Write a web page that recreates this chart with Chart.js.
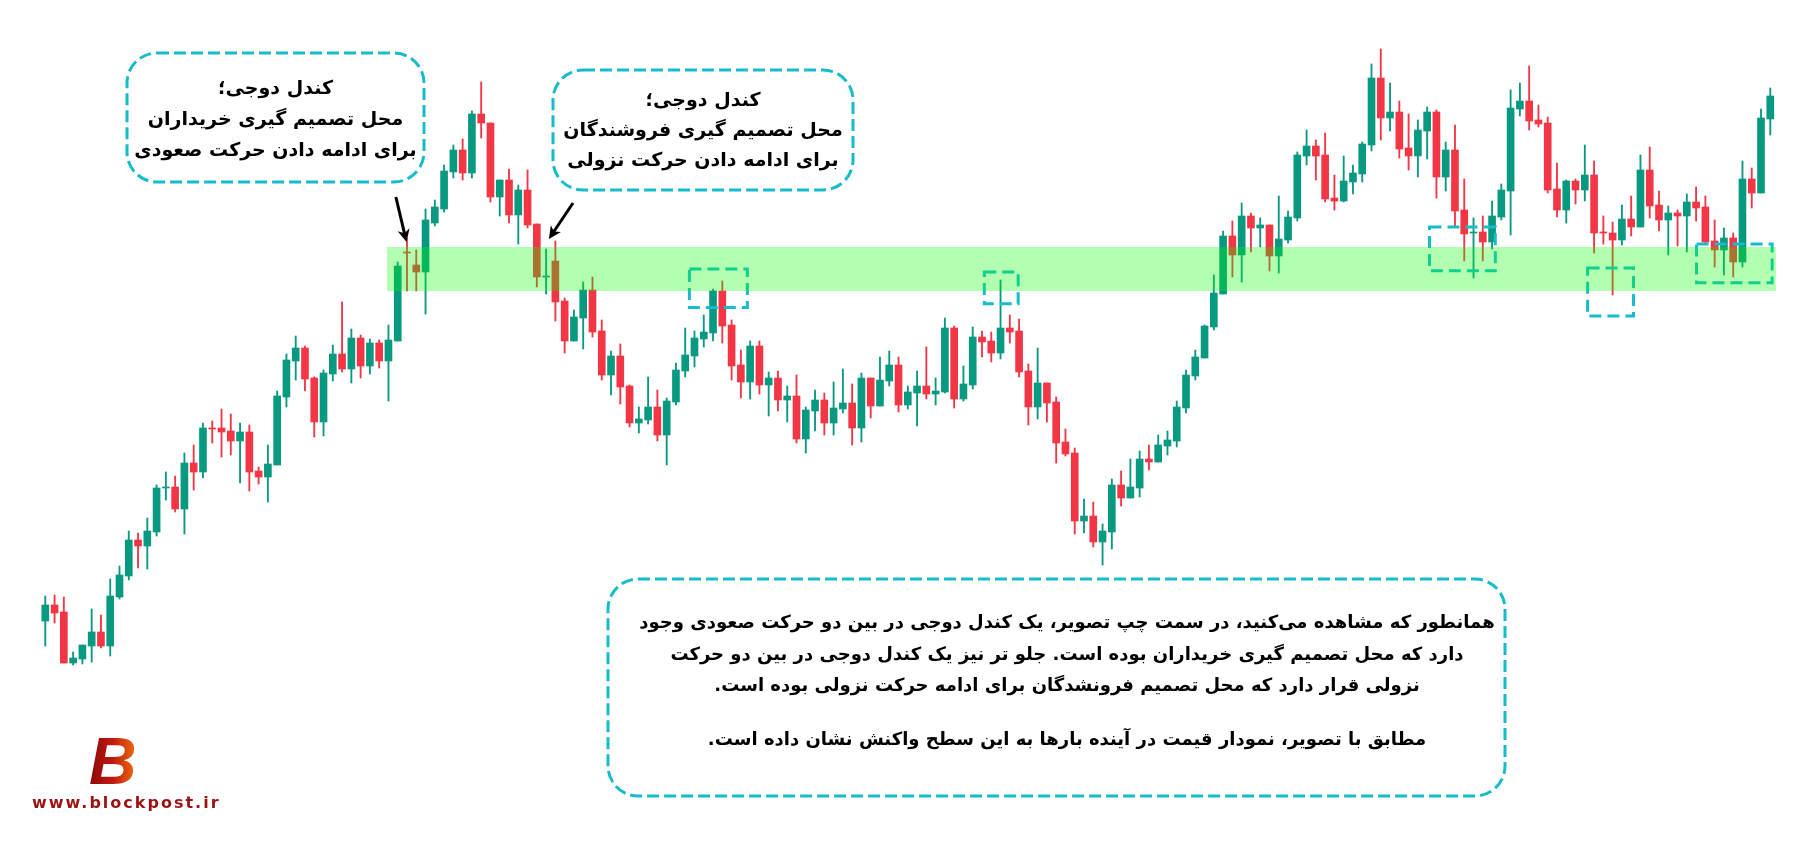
<!DOCTYPE html>
<html>

<head>
    <title>Doji decision candles</title>
    <script src="https://cdn.jsdelivr.net/npm/chart.js"></script>

    <style>
        html,
        body {
            margin: 0;
            padding: 0;
            background: #fff;
        }

        .wrap {
            position: relative;
            width: 1820px;
            height: 845px;
            overflow: hidden;
        }

        canvas {
            position: absolute;
            left: 0;
            top: 0;
        }

        .note {
            position: absolute;
            font-family: 'DejaVu Sans', sans-serif;
            font-weight: bold;
            direction: rtl;
            text-align: center;
            color: #000;
            white-space: nowrap;
        }

        .logo-b {
            position: absolute;
            left: 89px;
            top: 728px;
            font-family: 'Liberation Sans', sans-serif;
            font-weight: 900;
            font-style: italic;
            font-size: 66px;
            line-height: 1;
            background: linear-gradient(90deg, #8a0808, #c01a10 50%, #f0700f);
            -webkit-background-clip: text;
            background-clip: text;
            color: transparent;
        }

        .logo-url {
            position: absolute;
            left: 32px;
            top: 793px;
            font-family: 'DejaVu Sans', sans-serif;
            font-weight: bold;
            font-size: 16px;
            letter-spacing: 2px;
            color: #9c1212;
        }
    </style>
</head>

<body>
    <div class="wrap">
        <canvas id="chart" width="1820" height="845"></canvas>

        <div class="note" style="left:127px; width:297px; top:72px; font-size:19px; line-height:31px;">
            <div>کندل دوجی؛</div>
            <div>محل تصمیم گیری خریداران</div>
            <div>برای ادامه دادن حرکت صعودی</div>
        </div>

        <div class="note" style="left:553px; width:300px; top:84px; font-size:19px; line-height:30px;">
            <div>کندل دوجی؛</div>
            <div>محل تصمیم گیری فروشندگان</div>
            <div>برای ادامه دادن حرکت نزولی</div>
        </div>

        <div class="note" style="left:618px; width:898px; top:606px; font-size:18px; line-height:31.5px;">
            <div>همانطور که مشاهده می‌کنید، در سمت چپ تصویر، یک کندل دوجی در بین دو حرکت صعودی وجود</div>
            <div>دارد که محل تصمیم گیری خریداران بوده است. جلو تر نیز یک کندل دوجی در بین دو حرکت</div>
            <div>نزولی قرار دارد که محل تصمیم فرونشدگان برای ادامه حرکت نزولی بوده است.</div>
            <div style="margin-top:22px;">مطابق با تصویر، نمودار قیمت در آینده بارها به این سطح واکنش نشان داده است.</div>
        </div>

        <div class="logo-b">B</div>
        <div class="logo-url">www.blockpost.ir</div>
    </div>

    <script>
        // OHLC in price points, one entry per candle
        const open = [
            79, 95, 88, 37, 41, 54, 68, 54, 103, 124,
            160, 154, 168, 212, 213, 191, 237, 228, 272, 272,
            269, 259, 268, 229, 223, 235, 303, 339, 352, 322,
            278, 326, 346, 331, 362, 334, 357, 339, 359, 448,
            435, 428, 477, 491, 528, 550, 527, 586, 577, 503,
            520, 485, 510, 476, 423, 439, 399, 359, 382, 410,
            369, 325, 344, 314, 277, 280, 293, 265, 298, 329,
            344, 361, 367, 409, 375, 335, 318, 354, 315, 322,
            300, 304, 261, 289, 300, 277, 291, 297, 272, 322,
            294, 319, 335, 295, 307, 314, 306, 308, 372, 301,
            315, 363, 359, 347, 372, 369, 329, 293, 317, 298,
            258, 247, 179, 184, 158, 168, 215, 202, 212, 241,
            238, 254, 259, 292, 324, 342, 373, 406, 464, 445,
            484, 472, 475, 444, 460, 482, 544, 554, 545, 502,
            499, 518, 526, 555, 622, 582, 588, 552, 544, 569,
            588, 523, 550, 490, 467, 468, 458, 483, 509, 591,
            599, 580, 577, 511, 490, 519, 510, 525, 468, 467,
            460, 481, 473, 530, 495, 480, 487, 484, 498, 493,
            459, 450, 462, 438, 521, 507, 581
        ];
        const high = [
            104, 105, 103, 48, 55, 91, 85, 121, 134, 169,
            167, 182, 215, 228, 224, 247, 255, 277, 279, 291,
            286, 277, 275, 233, 255, 309, 346, 364, 354, 323,
            330, 355, 398, 371, 365, 361, 360, 375, 438, 462,
            450, 491, 500, 535, 555, 561, 589, 618, 577, 520,
            531, 515, 530, 476, 451, 459, 402, 390, 418, 423,
            380, 349, 356, 315, 293, 323, 310, 302, 337, 372,
            369, 385, 411, 419, 380, 350, 359, 359, 328, 329,
            314, 325, 293, 310, 307, 318, 331, 316, 327, 322,
            343, 349, 343, 314, 329, 353, 322, 382, 374, 334,
            373, 369, 368, 420, 385, 381, 336, 352, 317, 303,
            271, 252, 201, 198, 176, 221, 229, 241, 249, 255,
            265, 269, 299, 330, 350, 375, 425, 469, 479, 497,
            487, 482, 475, 504, 489, 548, 570, 560, 567, 525,
            544, 535, 558, 636, 651, 617, 599, 586, 580, 593,
            590, 558, 575, 521, 482, 484, 499, 516, 610, 617,
            634, 595, 583, 537, 520, 521, 555, 539, 484, 478,
            495, 504, 545, 553, 509, 494, 490, 506, 513, 504,
            480, 472, 467, 539, 532, 591, 612
        ];
        const low = [
            54, 77, 37, 35, 36, 38, 52, 44, 101, 120,
            132, 131, 164, 200, 188, 166, 210, 222, 257, 243,
            245, 217, 209, 216, 198, 235, 293, 320, 309, 263,
            264, 319, 328, 317, 322, 326, 332, 299, 359, 409,
            409, 386, 474, 488, 522, 520, 522, 562, 498, 484,
            477, 456, 472, 413, 406, 379, 347, 359, 351, 363,
            320, 305, 296, 273, 267, 276, 259, 235, 295, 323,
            333, 353, 359, 357, 320, 302, 301, 306, 284, 289,
            278, 257, 247, 269, 265, 265, 287, 255, 258, 282,
            294, 314, 288, 291, 274, 301, 295, 307, 292, 299,
            311, 343, 338, 341, 357, 323, 275, 281, 278, 237,
            244, 166, 167, 153, 135, 151, 194, 202, 203, 230,
            238, 245, 253, 287, 320, 342, 370, 406, 423, 418,
            448, 453, 429, 427, 457, 479, 535, 520, 498, 490,
            498, 506, 518, 549, 560, 569, 542, 530, 523, 541,
            502, 509, 474, 439, 422, 439, 451, 480, 465, 584,
            570, 573, 507, 483, 477, 496, 499, 447, 456, 405,
            455, 464, 473, 482, 469, 445, 454, 448, 479, 457,
            433, 425, 423, 433, 492, 507, 565
        ];
        const close = [
            95, 87, 37, 42, 55, 68, 54, 104, 125, 160,
            154, 169, 212, 213, 191, 237, 228, 272, 271, 268,
            259, 268, 228, 223, 236, 304, 340, 352, 321, 278,
            327, 346, 331, 362, 334, 357, 339, 360, 434, 447,
            428, 480, 493, 529, 550, 527, 586, 577, 503, 520,
            485, 510, 475, 423, 424, 398, 359, 383, 410, 368,
            325, 344, 313, 277, 281, 293, 265, 299, 330, 345,
            362, 368, 409, 374, 334, 318, 354, 315, 322, 300,
            304, 261, 290, 300, 277, 292, 297, 272, 322, 294,
            320, 335, 295, 308, 314, 306, 309, 372, 301, 316,
            363, 358, 347, 372, 368, 328, 293, 317, 297, 257,
            246, 179, 184, 158, 169, 215, 202, 213, 241, 238,
            255, 260, 293, 325, 343, 374, 407, 464, 445, 484,
            472, 475, 444, 461, 483, 545, 554, 544, 501, 499,
            519, 527, 556, 622, 582, 588, 551, 544, 570, 588,
            523, 550, 489, 466, 468, 458, 484, 510, 592, 599,
            579, 576, 510, 490, 519, 510, 525, 467, 467, 460,
            481, 473, 530, 494, 480, 487, 484, 498, 492, 458,
            450, 462, 438, 521, 507, 582, 604
        ];

        // support / resistance band (candle index range and price range)
        const zoneFrom = 36.85, zoneTo = 186.6;
        const zoneLow = 409, zoneHigh = 453;

        // small dashed markers: [fromIndex, toIndex, lowPrice, highPrice]
        const markers = [
            [69.45, 75.7, 392.5, 431],
            [101.25, 104.9, 396.3, 428],
            [149.25, 156.35, 429.3, 473],
            [166.3, 171.25, 384, 432],
            [178.05, 186.2, 417.3, 456]
        ];

        // arrows: [fromIndex, fromPrice, toIndex, toPrice]
        const arrows = [
            [37.8, 503, 38.95, 458],
            [56.9, 497, 54.3, 461]
        ];

        const UP = '#089981';
        const DOWN = '#F23645';
        const NOTE = '#17bccb';

        const idx = open.map((_, i) => i);
        const colors = idx.map(i => close[i] >= open[i] ? UP : DOWN);

        const overlay = {
            id: 'overlay',
            afterDatasetsDraw(chart) {
                const { ctx, scales: { x, y } } = chart;
                ctx.save();

                // dashed markers go under the band
                ctx.lineWidth = 3;
                ctx.strokeStyle = NOTE;
                ctx.setLineDash([12, 6]);
                markers.forEach(m => {
                    const x0 = x.getPixelForValue(m[0]), x1 = x.getPixelForValue(m[1]);
                    const y0 = y.getPixelForValue(m[3]), y1 = y.getPixelForValue(m[2]);
                    ctx.strokeRect(x0, y0, x1 - x0, y1 - y0);
                });

                // the band
                ctx.setLineDash([]);
                ctx.fillStyle = 'rgba(0,255,0,0.3)';
                const zx0 = x.getPixelForValue(zoneFrom), zx1 = x.getPixelForValue(zoneTo);
                const zy0 = y.getPixelForValue(zoneHigh), zy1 = y.getPixelForValue(zoneLow);
                ctx.fillRect(zx0, zy0, zx1 - zx0, zy1 - zy0);

                // note frames
                ctx.strokeStyle = NOTE;
                ctx.lineWidth = 3;
                ctx.setLineDash([12, 5]);
                [[127, 53, 297, 129], [553, 70, 300, 120], [608, 579, 897, 217]].forEach(b => {
                    ctx.beginPath();
                    ctx.roundRect(b[0], b[1], b[2], b[3], 30);
                    ctx.stroke();
                });

                // arrows
                ctx.setLineDash([]);
                ctx.strokeStyle = '#000';
                ctx.fillStyle = '#000';
                ctx.lineWidth = 3;
                arrows.forEach(a => {
                    const ax = x.getPixelForValue(a[0]), ay = y.getPixelForValue(a[1]);
                    const bx = x.getPixelForValue(a[2]), by = y.getPixelForValue(a[3]);
                    const ang = Math.atan2(by - ay, bx - ax);
                    const head = 14;
                    ctx.beginPath();
                    ctx.moveTo(ax, ay);
                    ctx.lineTo(bx - Math.cos(ang) * head * 0.6, by - Math.sin(ang) * head * 0.6);
                    ctx.stroke();
                    ctx.beginPath();
                    ctx.moveTo(bx, by);
                    ctx.lineTo(bx - Math.cos(ang - 0.45) * head, by - Math.sin(ang - 0.45) * head);
                    ctx.lineTo(bx - Math.cos(ang) * head * 0.65, by - Math.sin(ang) * head * 0.65);
                    ctx.lineTo(bx - Math.cos(ang + 0.45) * head, by - Math.sin(ang + 0.45) * head);
                    ctx.closePath();
                    ctx.fill();
                });

                ctx.restore();
            }
        };

        new Chart(document.getElementById('chart'), {
            type: 'bar',
            data: {
                datasets: [{
                    label: 'body',
                    data: idx.map(i => ({ x: i, y: [open[i], close[i]] })),
                    backgroundColor: colors,
                    barThickness: 7,
                    minBarLength: 1,
                    grouped: false
                }, {
                    label: 'wick',
                    data: idx.map(i => ({ x: i, y: [low[i], high[i]] })),
                    backgroundColor: colors,
                    barThickness: 1.2,
                    grouped: false
                }]
            },
            options: {
                responsive: false,
                animation: false,
                layout: { padding: 0 },
                plugins: {
                    legend: { display: false },
                    tooltip: { enabled: false }
                },
                scales: {
                    x: {
                        type: 'linear',
                        display: false,
                        offset: false,
                        min: -4.885,
                        max: 191.36
                    },
                    y: {
                        display: false,
                        min: -145,
                        max: 700
                    }
                }
            },
            plugins: [overlay]
        });
    </script>
</body>

</html>
